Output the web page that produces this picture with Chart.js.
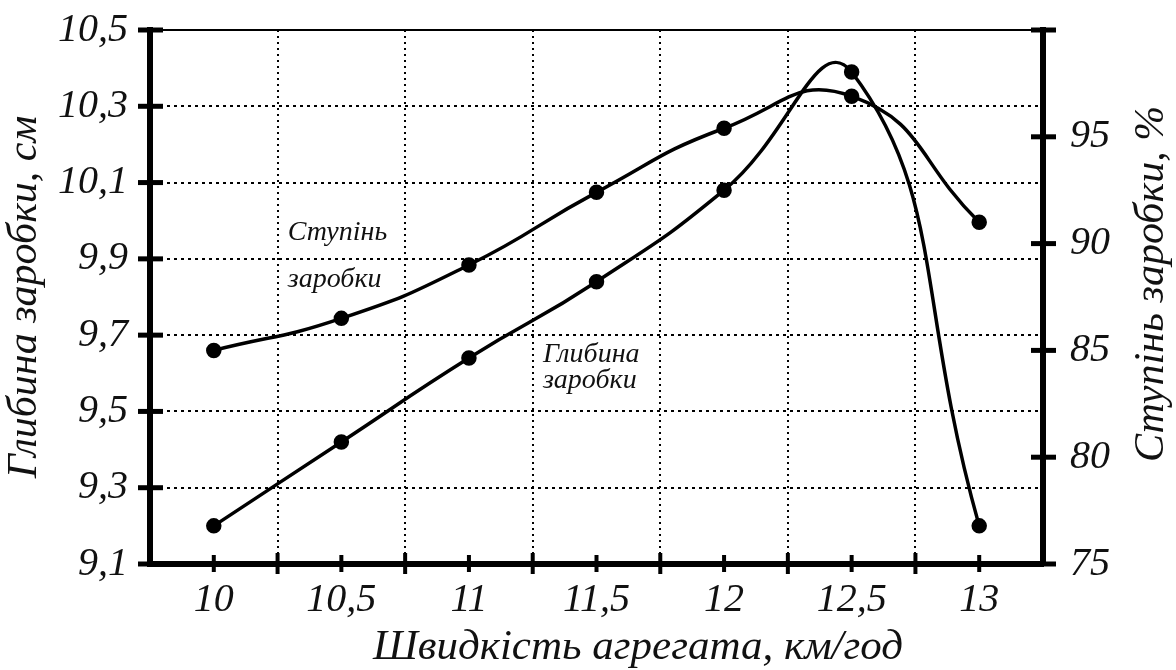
<!DOCTYPE html>
<html>
<head>
<meta charset="utf-8">
<script src="https://cdn.jsdelivr.net/npm/chart.js@4.4.1/dist/chart.umd.min.js"></script>
<style>
  html, body { margin: 0; padding: 0; background: #fff; }
</style>
</head>
<body>
<canvas id="chart" width="1176" height="670"></canvas>
<script>
// швидкість агрегата, км/год
const speed = [10, 10.5, 11, 11.5, 12, 12.5, 13];
// глибина заробки, см (ліва вісь)
const depth = [9.2, 9.42, 9.64, 9.84, 10.08, 10.39, 9.2];
// ступінь заробки, % (права вісь)
const degree = [85, 86.5, 89, 92.4, 95.4, 96.9, 91];

// поділки осей
const speedLabels = [10, 10.5, 11, 11.5, 12, 12.5, 13];
const speedGrid = [10.25, 10.75, 11.25, 11.75, 12.25, 12.75];
const depthTicks = [9.1, 9.3, 9.5, 9.7, 9.9, 10.1, 10.3, 10.5];
const degreeTicks = [75, 80, 85, 90, 95, 100];
const degreeLabels = ["75", "80", "85", "90", "95", ""];

const notes = [
    { text: "Ступінь", x: 10.29, y: 9.95 },
    { text: "заробки", x: 10.29, y: 9.826 },
    { text: "Глибина", x: 11.29, y: 9.63 },
    { text: "заробки", x: 11.29, y: 9.561 }
];

const FONT = "'Liberation Serif', 'DejaVu Serif', serif";
const INK = "#111";

function comma(v) {
    return String(+v.toFixed(2)).replace(".", ",");
}

// без зайвих полів від підписів — рамку задає layout.padding
function noPad(s) {
    s.paddingTop = 0;
    s.paddingBottom = 0;
    s.paddingLeft = 0;
    s.paddingRight = 0;
}

// тонка верхня рамка, риски на осях, написи
const decor = {
    id: "decor",
    afterDraw(chart) {
        const { ctx, chartArea: a, scales } = chart;
        const x = scales.x, yl = scales.y, yr = scales.y2;
        ctx.save();
        ctx.strokeStyle = "#000";

        ctx.lineWidth = 2;
        ctx.beginPath();
        ctx.moveTo(a.left, a.top);
        ctx.lineTo(a.right, a.top);
        ctx.stroke();

        ctx.lineWidth = 5;
        depthTicks.forEach(v => {
            const py = yl.getPixelForValue(v);
            ctx.beginPath();
            ctx.moveTo(a.left - 12, py);
            ctx.lineTo(a.left + 13, py);
            ctx.stroke();
        });
        degreeTicks.forEach(v => {
            const py = yr.getPixelForValue(v);
            ctx.beginPath();
            ctx.moveTo(a.right - 12, py);
            ctx.lineTo(a.right + 13, py);
            ctx.stroke();
        });

        ctx.lineWidth = 4;
        speedLabels.forEach(v => {
            const px = x.getPixelForValue(v);
            ctx.beginPath();
            ctx.moveTo(px, a.bottom - 9);
            ctx.lineTo(px, a.bottom + 8);
            ctx.stroke();
        });
        speedGrid.forEach(v => {
            const px = x.getPixelForValue(v);
            ctx.beginPath();
            ctx.moveTo(px, a.bottom - 11);
            ctx.lineTo(px, a.bottom + 10);
            ctx.stroke();
        });

        ctx.fillStyle = INK;
        ctx.font = "italic 28px " + FONT;
        ctx.textAlign = "left";
        ctx.textBaseline = "alphabetic";
        notes.forEach(n => {
            ctx.fillText(n.text, x.getPixelForValue(n.x), yl.getPixelForValue(n.y));
        });

        ctx.font = "italic 43px " + FONT;
        ctx.textAlign = "center";
        ctx.fillText("Швидкість агрегата, км/год", 638, 659);

        ctx.translate(1163, 284);
        ctx.rotate(-Math.PI / 2);
        ctx.font = "italic 42px " + FONT;
        ctx.fillText("Ступінь заробки, %", 0, 0);
        ctx.restore();
    }
};

new Chart(document.getElementById("chart"), {
    type: "line",
    data: {
        datasets: [
            {
                label: "Глибина заробки",
                data: speed.map((s, i) => ({ x: s, y: depth[i] })),
                yAxisID: "y",
                borderColor: "#000",
                backgroundColor: "#000",
                borderWidth: 3.5,
                pointRadius: 6,
                tension: 0.5
            },
            {
                label: "Ступінь заробки",
                data: speed.map((s, i) => ({ x: s, y: degree[i] })),
                yAxisID: "y2",
                borderColor: "#000",
                backgroundColor: "#000",
                borderWidth: 3.5,
                pointRadius: 6,
                tension: 0.5
            }
        ]
    },
    options: {
        responsive: false,
        animation: false,
        layout: { padding: { top: 30 } },
        plugins: { legend: { display: false }, tooltip: { enabled: false } },
        scales: {
            x: {
                type: "linear",
                min: 9.75,
                max: 13.25,
                afterBuildTicks: s => {
                    s.ticks = speedLabels.concat(speedGrid).sort((a, b) => a - b).map(v => ({ value: v }));
                },
                afterFit: s => { s.height = 106; noPad(s); },
                ticks: {
                    autoSkip: false,
                    maxRotation: 0,
                    padding: 12,
                    color: INK,
                    font: { family: FONT, size: 40, style: "italic" },
                    callback: v => speedLabels.includes(v) ? comma(v) : ""
                },
                grid: {
                    drawTicks: false,
                    lineWidth: 2,
                    color: c => (c.tick && speedGrid.includes(c.tick.value)) ? "#000" : "rgba(0,0,0,0)"
                },
                border: { color: "#000", width: 6, dash: [2, 4] }
            },
            y: {
                position: "left",
                min: 9.1,
                max: 10.5,
                afterBuildTicks: s => { s.ticks = depthTicks.map(v => ({ value: v })); },
                afterFit: s => { s.width = 150; noPad(s); },
                ticks: {
                    padding: 22,
                    color: INK,
                    font: { family: FONT, size: 40, style: "italic" },
                    callback: v => comma(v)
                },
                grid: {
                    drawTicks: false,
                    lineWidth: 2,
                    color: c => (c.tick && c.tick.value > 9.15 && c.tick.value < 10.45) ? "#000" : "rgba(0,0,0,0)"
                },
                border: { color: "#000", width: 6, dash: [3, 4] },
                title: {
                    display: true,
                    text: "Глибина заробки, см",
                    color: INK,
                    padding: { top: 0, bottom: 0 },
                    font: { family: FONT, size: 42, style: "italic" }
                }
            },
            y2: {
                position: "right",
                min: 75,
                max: 100,
                afterBuildTicks: s => { s.ticks = degreeTicks.map(v => ({ value: v })); },
                afterFit: s => { s.width = 133; noPad(s); },
                ticks: {
                    padding: 27,
                    color: INK,
                    font: { family: FONT, size: 40, style: "italic" },
                    callback: (v, i) => degreeLabels[i]
                },
                grid: { display: false, drawTicks: false },
                border: { color: "#000", width: 6 }
            }
        }
    },
    plugins: [decor]
});
</script>
</body>
</html>
